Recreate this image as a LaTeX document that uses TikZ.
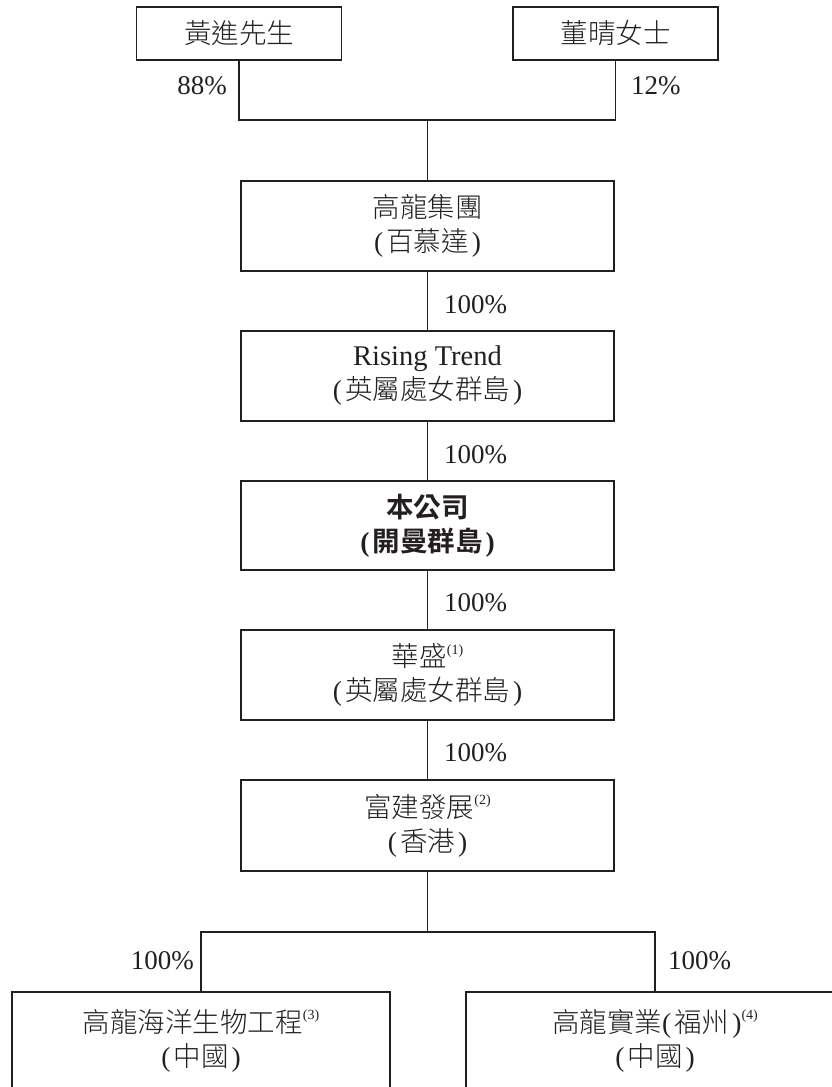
\documentclass[tikz,border=0pt]{standalone}
\usepackage{fontspec}
\setmainfont{Liberation Serif}
\newfontfamily\cjk[UprightFont={* Light}, BoldFont={* Bold}]{Noto Sans CJK TC}
\newcommand{\zh}[1]{{\cjk #1}}
\newcommand{\nt}[1]{\raisebox{0.45em}{\fontsize{14}{14}\selectfont #1}}
\newcommand{\lp}{(\kern3pt}
\newcommand{\rp}{\kern3pt)}
\definecolor{ink}{HTML}{231F20}
\begin{document}
\begin{tikzpicture}[x=1pt,y=-1pt,
  box/.style={draw=ink, line width=1.2pt, align=center, inner sep=0pt,
    text=ink, font=\fontsize{27.5}{34}\selectfont},
  topbox/.style={box, minimum width=205pt, minimum height=53pt},
  midbox/.style={box, minimum width=373pt, minimum height=90pt},
  botbox/.style={box, minimum width=378pt, minimum height=97pt},
  pct/.style={inner sep=0pt, text=ink, font=\fontsize{27}{27}\selectfont},
  link/.style={draw=ink, line width=1.2pt}]
\useasboundingbox (0,0) rectangle (832,1087);

\node[topbox] (A) at (239,33.5) {\zh{黃進先生}};
\node[topbox] (B) at (615.5,33.5) {\zh{董晴女士}};
\node[midbox] (g1) at (427.5,226) {\zh{高龍集團}\\\lp\zh{百慕達}\rp};
\node[midbox] (g2) at (427.5,376) {{\fontsize{28.5}{34}\selectfont Rising Trend}\\\lp\zh{英屬處女群島}\rp};
\node[midbox, minimum height=89pt, font=\fontsize{27.5}{34}\selectfont\bfseries] (g3) at (427.5,525.5) {\zh{本公司}\\\lp\zh{開曼群島}\rp};
\node[midbox] (g4) at (427.5,675) {\zh{華盛}\nt{(1)}\\\lp\zh{英屬處女群島}\rp};
\node[midbox, minimum height=91pt] (g5) at (427.5,825.5) {\zh{富建發展}\nt{(2)}\\\lp\zh{香港}\rp};
\node[botbox] (L) at (201,1040.5) {\zh{高龍海洋生物工程}\nt{(3)}\\\lp\zh{中國}\rp};
\node[botbox] (R) at (655,1040.5) {\zh{高龍實業}\lp\zh{福州}\rp\nt{(4)}\\\lp\zh{中國}\rp};

\coordinate (j1) at (427.5,120);
\coordinate (j2) at (427.5,932);

\draw[link] (A.south) |- (j1) -| (B.south);
\draw[link] (j1) -- (g1.north);
\draw[link] (g1) -- (g2);
\draw[link] (g2) -- (g3);
\draw[link] (g3) -- (g4);
\draw[link] (g4) -- (g5);
\draw[link] (g5.south) -- (j2);
\draw[link] (L.north) |- (j2) -| (R.north);

\node[pct, anchor=east] (p88) at (227,86) {88\%};
\node[pct, anchor=west] (p12) at (631,86) {12\%};
\node[pct, anchor=west] (p1) at (444,305) {100\%};
\node[pct, anchor=west] (p2) at (444,455) {100\%};
\node[pct, anchor=west] (p3) at (444,603) {100\%};
\node[pct, anchor=west] (p4) at (444,753) {100\%};
\node[pct, anchor=east] (p5) at (194,961) {100\%};
\node[pct, anchor=west] (p6) at (668,961) {100\%};
\end{tikzpicture}
\end{document}
